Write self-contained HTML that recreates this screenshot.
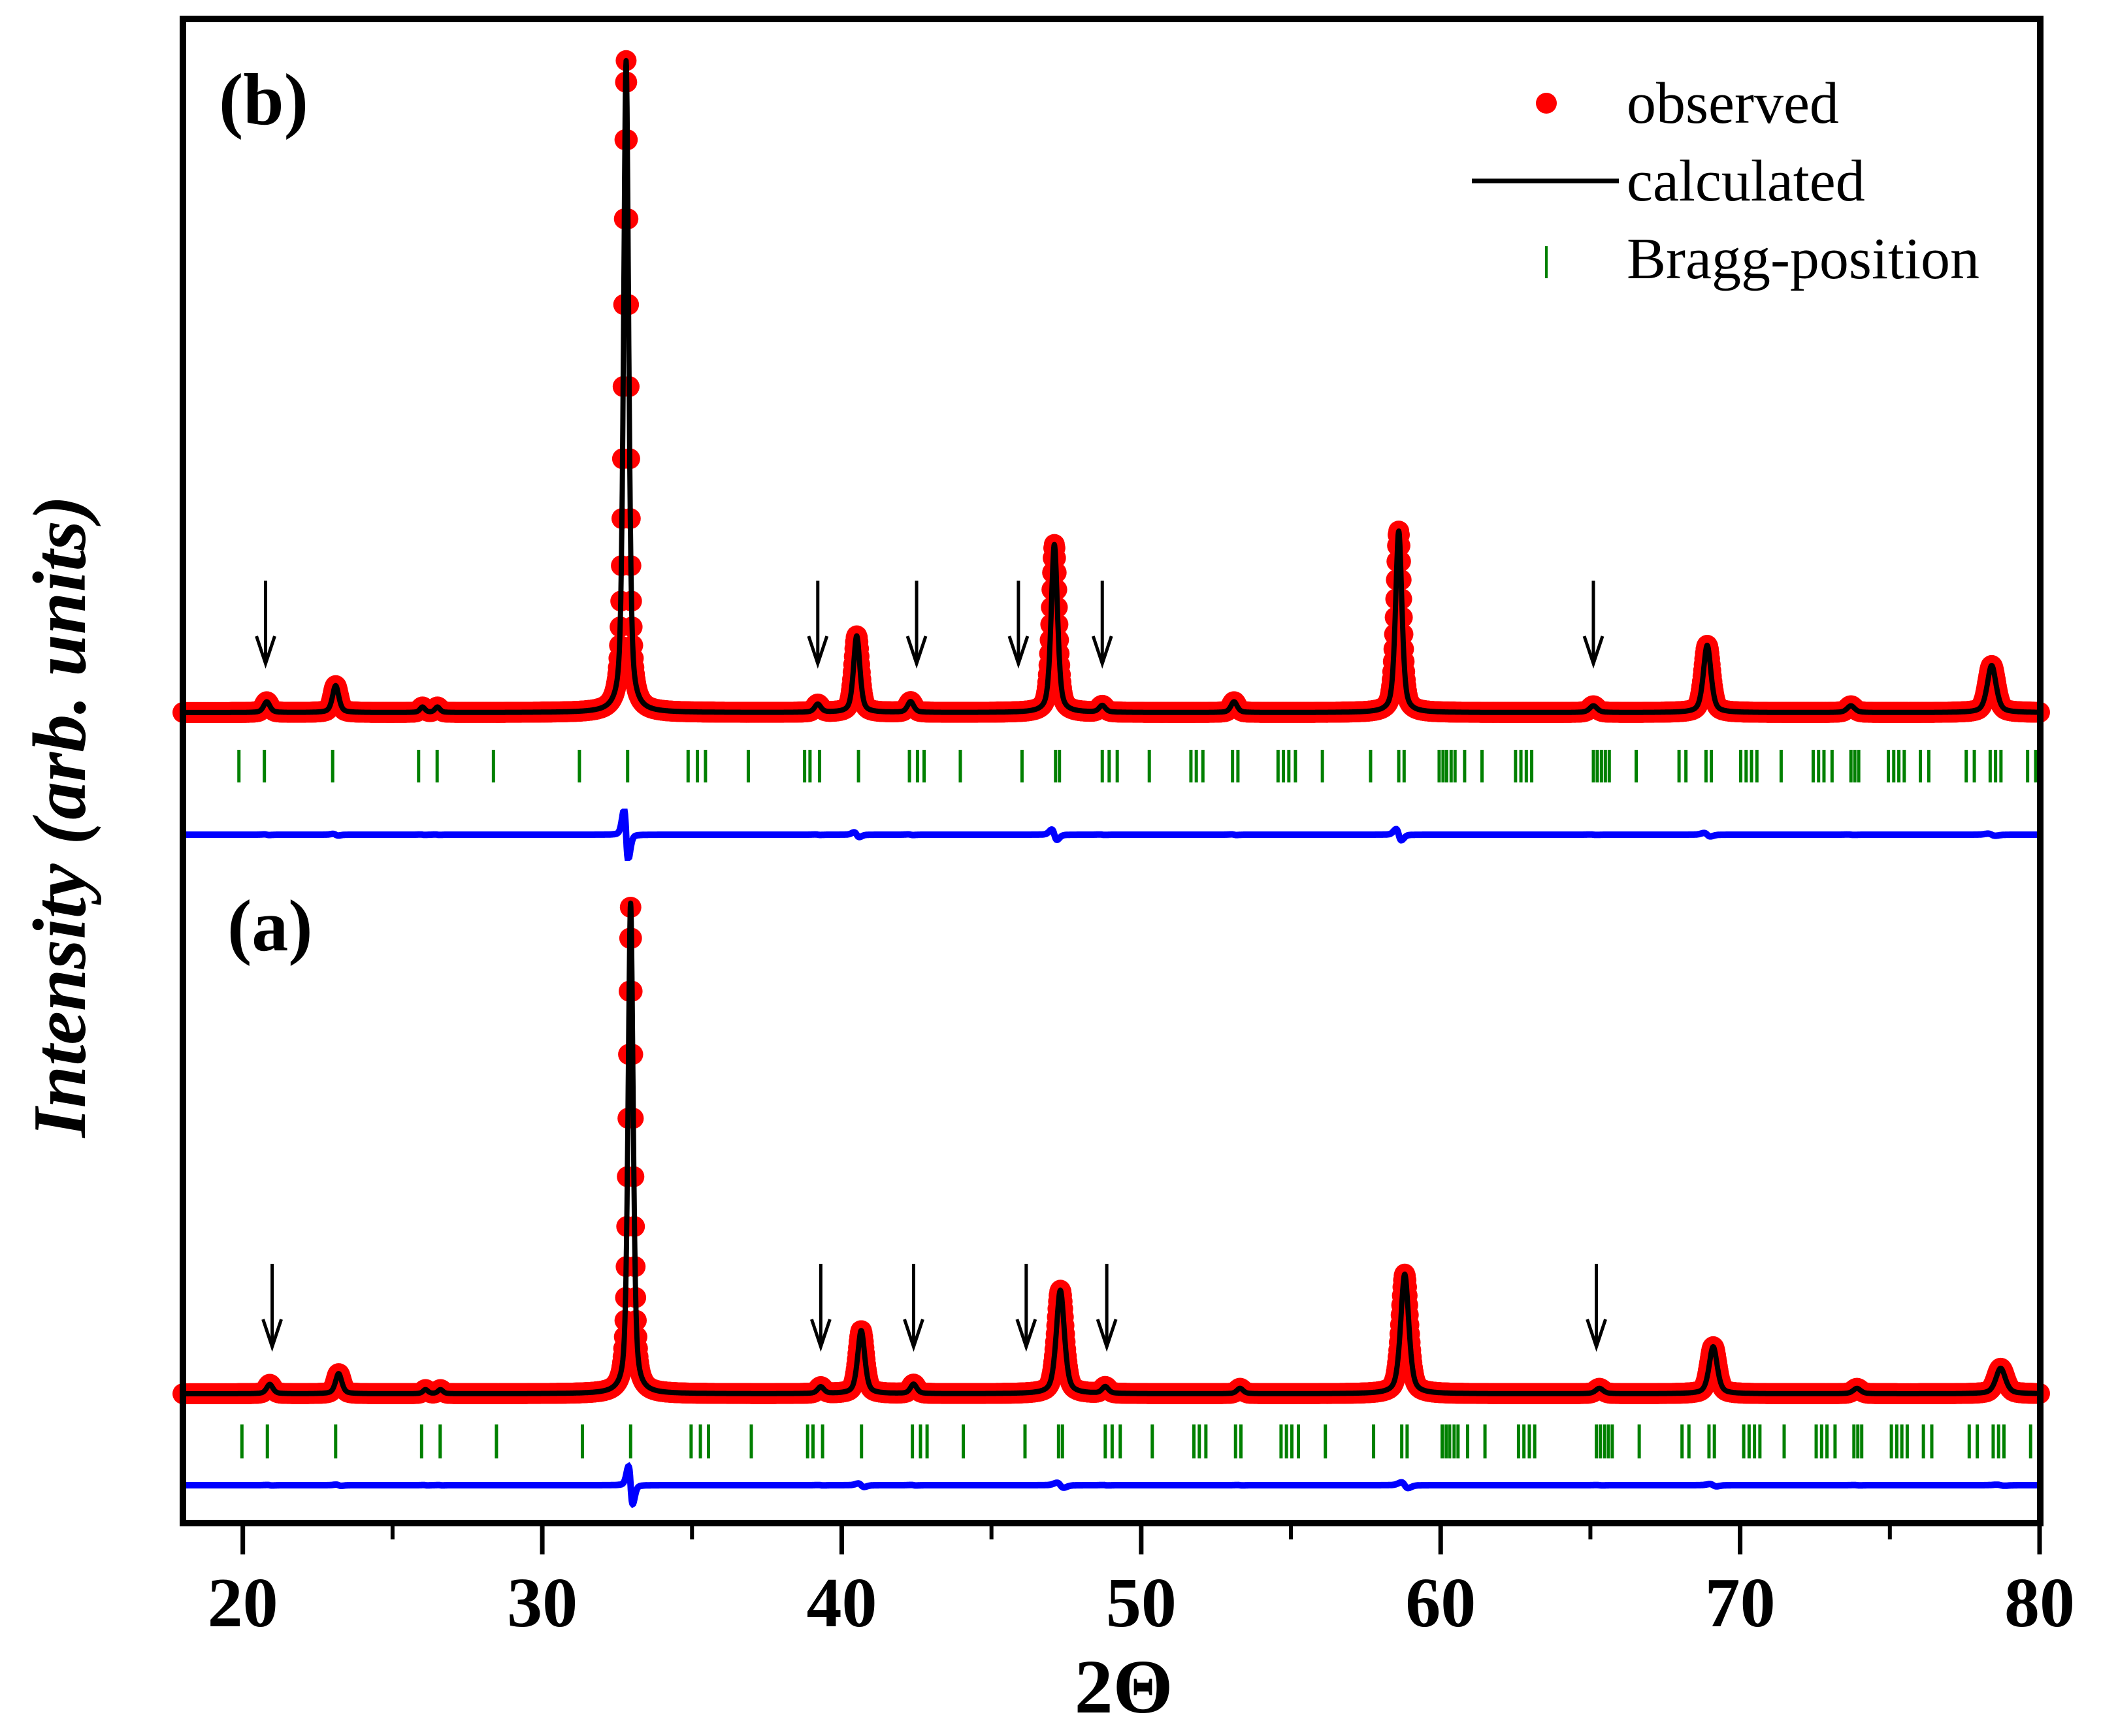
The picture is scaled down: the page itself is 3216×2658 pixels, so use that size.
<!DOCTYPE html>
<html><head><meta charset="utf-8"><style>
html,body{margin:0;padding:0;background:#fff;}
svg{display:block;}
text{font-family:"Liberation Serif",serif;font-weight:bold;}
text.lg{font-weight:normal;}
</style></head><body>
<svg id="chart" width="3216" height="2658" viewBox="0 0 3216 2658" xmlns="http://www.w3.org/2000/svg">
<g id="layer-data"></g>
<rect x="280" y="29" width="2843" height="2303" fill="none" stroke="#000" stroke-width="10"/>
<g id="axis"></g>
<text x="1720" y="2622" font-size="118" text-anchor="middle">2Θ</text>
<text transform="translate(130,1250) rotate(-90)" font-size="116" font-style="italic" text-anchor="middle">Intensity (arb. units)</text>
<text x="335" y="190" font-size="112">(b)</text>
<text x="348" y="1455" font-size="112">(a)</text>
<g>
<circle cx="2367" cy="158" r="16" fill="#f00"/>
<text class="lg" x="2490" y="188" font-size="90">observed</text>
<line x1="2253" y1="277" x2="2478" y2="277" stroke="#000" stroke-width="7"/>
<text class="lg" x="2490" y="307" font-size="90">calculated</text>
<line x1="2367" y1="377" x2="2367" y2="426" stroke="#008000" stroke-width="4"/>
<text class="lg" x="2490" y="426" font-size="90">Bragg-position</text>
</g>
</svg>
<script>
const xTicks = [20,30,40,50,60,70,80];
const xMinor = [25,35,45,55,65,75];
// panel b peaks: position, height (arb), fwhm
const peakPosB = [20.8,23.1,26.0,26.5,32.8,39.2,40.5,42.3,47.1,48.7,53.1,58.6,65.1,68.9,73.7,78.4];
const peakHB   = [8,20,4,4,485,6,57,8,125,5,8,135,5,50,5,35];
const peakWB   = [0.25,0.25,0.2,0.2,0.2,0.25,0.25,0.25,0.25,0.25,0.25,0.25,0.3,0.3,0.3,0.35];
const peakPosA = [20.9,23.2,26.1,26.6,32.95,39.3,40.65,42.4,47.3,48.8,53.3,58.8,65.3,69.1,73.9,78.7];
const peakHA   = [7,15,3,3,365,5,47,7,77,5,4,89,4,35,4,19];
const peakWA   = [0.25,0.25,0.2,0.2,0.2,0.25,0.28,0.25,0.32,0.25,0.25,0.32,0.3,0.32,0.3,0.38];
const arrowsB = [20.76,39.2,42.5,45.9,48.7,65.1];
const arrowsA = [20.98,39.3,42.4,46.16,48.85,65.2];
const braggB = [19.87,20.72,23.0,25.87,26.49,28.37,31.24,32.85,34.87,35.18,35.45,36.88,38.76,38.94,39.26,40.56,42.26,42.53,42.75,43.96,46.02,47.14,47.27,48.7,48.93,49.2,50.27,51.66,51.84,52.06,53.05,53.23,54.57,54.75,54.93,55.15,56.05,57.66,58.6,58.78,59.95,60.08,60.2,60.35,60.48,60.8,61.38,62.5,62.68,62.86,63.04,65.1,65.23,65.37,65.5,65.63,66.53,67.96,68.19,68.86,69.04,70.02,70.2,70.38,70.56,71.37,72.44,72.62,72.8,73.07,73.7,73.83,73.96,74.95,75.13,75.3,75.48,76.02,76.3,77.55,77.82,78.35,78.53,78.71,79.6,79.87];
const braggA = [19.97,20.82,23.1,25.97,26.59,28.47,31.34,32.95,34.97,35.28,35.55,36.98,38.86,39.04,39.36,40.66,42.36,42.63,42.85,44.06,46.12,47.24,47.37,48.8,49.03,49.3,50.37,51.76,51.94,52.16,53.15,53.33,54.67,54.85,55.03,55.25,56.15,57.76,58.7,58.88,60.05,60.18,60.3,60.45,60.58,60.9,61.48,62.6,62.78,62.96,63.14,65.2,65.33,65.47,65.6,65.73,66.63,68.06,68.29,68.96,69.14,70.12,70.3,70.48,70.66,71.47,72.54,72.72,72.9,73.17,73.8,73.93,74.06,75.05,75.23,75.4,75.58,76.12,76.4,77.65,77.92,78.45,78.63,78.81,79.7,79.97];

const NS='http://www.w3.org/2000/svg';
const X0=18,X1=80,PX0=280,PX1=3122;
function xs(v){return PX0+(v-X0)*(PX1-PX0)/(X1-X0);}
const YS=2.058;
function mk(tag,attrs,parent){const e=document.createElementNS(NS,tag);for(const k in attrs)e.setAttribute(k,attrs[k]);parent.appendChild(e);return e;}
const layer=document.getElementById('layer-data');
const axis=document.getElementById('axis');

xTicks.forEach(t=>{
  const l=mk('line',{x1:xs(t),x2:xs(t),y1:2332,y2:2380,stroke:'#000','stroke-width':7},axis);
  
  
  const tx=mk('text',{x:xs(t),y:2490,'font-size':108,'text-anchor':'middle'},axis);
  tx.textContent=t;
  
  
});
xMinor.forEach(t=>{
  const l=mk('line',{x1:xs(t),x2:xs(t),y1:2332,y2:2357,stroke:'#000','stroke-width':6},axis);
  
  
});

function prof(x,P,H,W){let s=0;for(let i=0;i<P.length;i++){const d=(x-P[i])/(W[i]/2);s+=H[i]*(0.5/(1+d*d)+0.5*Math.exp(-0.693*d*d));}return s;}
function dprof(x,P,H,W){const e=0.01;return (prof(x+e,P,H,W)-prof(x-e,P,H,W))/(2*e);}

function panel(name,base,braggY0,braggY1,diffY,P,H,W,arrows,bragg,arrowTop){
  const g=mk('g',{},layer);
  
  
  const obs=mk('g',{fill:'#f00'},g);
  
  
  let dcalc='',ddiff='';
  for(let x=X0;x<=X1+1e-9;x+=0.02){
    const h=prof(x,P,H,W);
    const c=mk('circle',{cx:xs(x).toFixed(1),cy:(base-h*YS).toFixed(1),r:16},obs);
    
    
  }
  for(let x=X0;x<=X1+1e-9;x+=0.01){
    const h=prof(x,P,H,W);
    dcalc+=(dcalc?'L':'M')+xs(x).toFixed(1)+','+(base-h*YS).toFixed(1);
    const dv=Math.max(-35,Math.min(35,-dprof(x,P,H,W)*0.012));
    ddiff+=(ddiff?'L':'M')+xs(x).toFixed(1)+','+(diffY+dv).toFixed(1);
  }
  const calc=mk('path',{d:dcalc,fill:'none',stroke:'#000','stroke-width':8,'stroke-linejoin':'round'},g);
  
  
  const br=mk('g',{stroke:'#008000','stroke-width':5},g);
  
  
  bragg.forEach(b=>{
    const l=mk('line',{x1:xs(b),x2:xs(b),y1:braggY0,y2:braggY1},br);
    
    
  });
  const df=mk('path',{d:ddiff,fill:'none',stroke:'#00f','stroke-width':10},g);
  
  
  arrows.forEach(a=>{
    const ag=mk('g',{stroke:'#000','stroke-width':5,fill:'none'},g);
    
    
    const x=xs(a);
    mk('line',{x1:x,x2:x,y1:arrowTop,y2:arrowTop+125},ag);
    mk('path',{d:`M${x-14},${arrowTop+85}L${x},${arrowTop+127}L${x+14},${arrowTop+85}`},ag);
  });
}
panel('panel-b',1091,1148,1198,1278,peakPosB,peakHB,peakWB,arrowsB,braggB,889);
panel('panel-a',2134,2181,2233,2274,peakPosA,peakHA,peakWA,arrowsA,braggA,1935);
</script>
</body></html>
